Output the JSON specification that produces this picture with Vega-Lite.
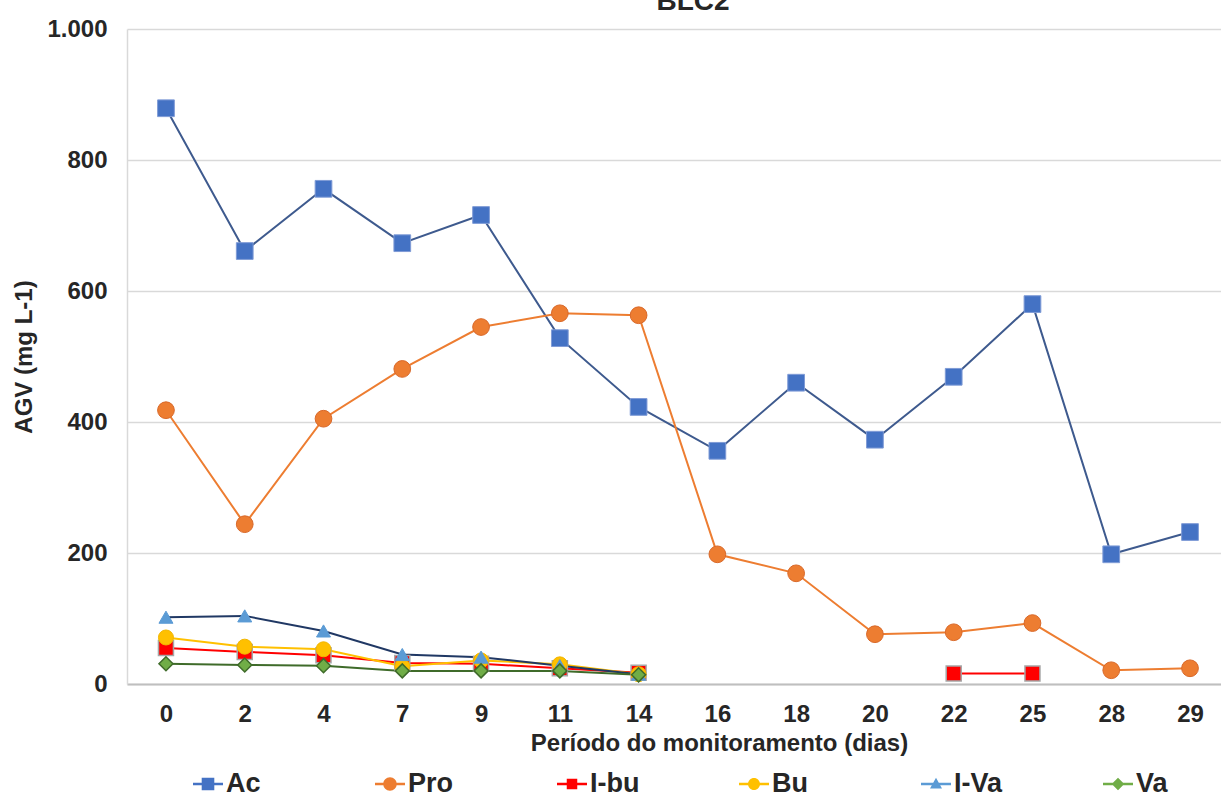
{
  "$schema": "https://vega.github.io/schema/vega-lite/v6.json",
  "width": 1094,
  "height": 655,
  "autosize": {"type": "none"},
  "padding": {"left": 127, "top": 29, "right": 0, "bottom": 113},
  "background": "white",
  "config": {"view": {"stroke": null}, "font": "Liberation Sans"},
  "title": {
    "text": "BLC2",
    "font": "Liberation Sans",
    "fontSize": 28,
    "fontWeight": "bold",
    "color": "#262626",
    "anchor": "middle",
    "baseline": "alphabetic",
    "offset": -21,
    "dx": 19
  },
  "data": {
    "values": [
      {"dia": 0, "serie": "Ac", "v": 879}, {"dia": 2, "serie": "Ac", "v": 661}, {"dia": 4, "serie": "Ac", "v": 756},
      {"dia": 7, "serie": "Ac", "v": 673}, {"dia": 9, "serie": "Ac", "v": 716}, {"dia": 11, "serie": "Ac", "v": 528},
      {"dia": 14, "serie": "Ac", "v": 423}, {"dia": 16, "serie": "Ac", "v": 356}, {"dia": 18, "serie": "Ac", "v": 460},
      {"dia": 20, "serie": "Ac", "v": 373}, {"dia": 22, "serie": "Ac", "v": 469}, {"dia": 25, "serie": "Ac", "v": 580},
      {"dia": 28, "serie": "Ac", "v": 198}, {"dia": 29, "serie": "Ac", "v": 232},

      {"dia": 0, "serie": "Pro", "v": 418}, {"dia": 2, "serie": "Pro", "v": 244}, {"dia": 4, "serie": "Pro", "v": 405},
      {"dia": 7, "serie": "Pro", "v": 481}, {"dia": 9, "serie": "Pro", "v": 545}, {"dia": 11, "serie": "Pro", "v": 566},
      {"dia": 14, "serie": "Pro", "v": 563}, {"dia": 16, "serie": "Pro", "v": 198}, {"dia": 18, "serie": "Pro", "v": 169},
      {"dia": 20, "serie": "Pro", "v": 76}, {"dia": 22, "serie": "Pro", "v": 79}, {"dia": 25, "serie": "Pro", "v": 93},
      {"dia": 28, "serie": "Pro", "v": 21}, {"dia": 29, "serie": "Pro", "v": 24},

      {"dia": 0, "serie": "I-bu", "v": 55}, {"dia": 2, "serie": "I-bu", "v": 49}, {"dia": 4, "serie": "I-bu", "v": 44},
      {"dia": 7, "serie": "I-bu", "v": 32}, {"dia": 9, "serie": "I-bu", "v": 31}, {"dia": 11, "serie": "I-bu", "v": 24},
      {"dia": 14, "serie": "I-bu", "v": 17}, {"dia": 16, "serie": "I-bu", "v": null}, {"dia": 18, "serie": "I-bu", "v": null},
      {"dia": 20, "serie": "I-bu", "v": null}, {"dia": 22, "serie": "I-bu", "v": 16}, {"dia": 25, "serie": "I-bu", "v": 16},

      {"dia": 0, "serie": "Bu", "v": 71}, {"dia": 2, "serie": "Bu", "v": 57}, {"dia": 4, "serie": "Bu", "v": 53},
      {"dia": 7, "serie": "Bu", "v": 27}, {"dia": 9, "serie": "Bu", "v": 36}, {"dia": 11, "serie": "Bu", "v": 30},
      {"dia": 14, "serie": "Bu", "v": 15},

      {"dia": 0, "serie": "I-Va", "v": 102}, {"dia": 2, "serie": "I-Va", "v": 104}, {"dia": 4, "serie": "I-Va", "v": 81},
      {"dia": 7, "serie": "I-Va", "v": 45}, {"dia": 9, "serie": "I-Va", "v": 41}, {"dia": 11, "serie": "I-Va", "v": 28},
      {"dia": 14, "serie": "I-Va", "v": 15},

      {"dia": 0, "serie": "Va", "v": 31}, {"dia": 2, "serie": "Va", "v": 29}, {"dia": 4, "serie": "Va", "v": 28},
      {"dia": 7, "serie": "Va", "v": 20}, {"dia": 9, "serie": "Va", "v": 20}, {"dia": 11, "serie": "Va", "v": 20},
      {"dia": 14, "serie": "Va", "v": 14}
    ]
  },
  "encoding": {
    "x": {
      "field": "dia",
      "type": "ordinal",
      "scale": {"type": "point", "padding": 0.444, "align": 0.557},
      "axis": {
        "title": "Período do monitoramento (dias)",
        "labelAngle": 0,
        "labelFontSize": 24,
        "labelFontWeight": "bold",
        "labelColor": "#262626",
        "labelPadding": 18,
        "ticks": false,
        "grid": false,
        "domainColor": "#BFBFBF",
        "domainWidth": 2,
        "titleFontSize": 24,
        "titleFontWeight": "bold",
        "titleColor": "#262626",
        "titleX": 592,
        "titlePadding": 5
      }
    },
    "y": {
      "field": "v",
      "type": "quantitative",
      "scale": {"domain": [0, 1000], "nice": false},
      "axis": {
        "title": "AGV (mg L-1)",
        "values": [0, 200, 400, 600, 800, 1000],
        "labelExpr": "datum.value == 1000 ? '1.000' : format(datum.value, 'd')",
        "labelFontSize": 24,
        "labelFontWeight": "bold",
        "labelColor": "#262626",
        "labelPadding": 20,
        "ticks": false,
        "grid": true,
        "gridColor": "#D9D9D9",
        "gridWidth": 1.5,
        "domain": true,
        "domainColor": "#D9D9D9",
        "domainWidth": 1.5,
        "titleFontSize": 24,
        "titleFontWeight": "bold",
        "titleColor": "#262626",
        "titlePadding": 10
      }
    }
  },
  "layer": [
    {
      "mark": {"type": "point", "filled": true, "opacity": 0},
      "encoding": {
        "fill": {
          "field": "serie",
          "type": "nominal",
          "scale": {
            "domain": ["Ac", "Pro", "I-bu", "Bu", "I-Va", "Va"],
            "range": ["#4472C4", "#ED7D31", "#FF0000", "#FFC000", "#5B9BD5", "#70AD47"]
          },
          "legend": {
            "title": null,
            "orient": "none",
            "legendX": 66,
            "legendY": 740,
            "direction": "horizontal",
            "columns": 6,
            "gridAlign": "all",
            "columnPadding": 99,
            "symbolSize": 900,
            "symbolOpacity": 1,
            "symbolStrokeWidth": 0,
            "labelFont": "Liberation Sans",
            "labelFontSize": 27,
            "labelFontWeight": "bold",
            "labelColor": "#262626",
            "labelOffset": 3
          }
        },
        "shape": {
          "field": "serie",
          "type": "nominal",
          "scale": {
            "domain": ["Ac", "Pro", "I-bu", "Bu", "I-Va", "Va"],
            "range": [
              "M-1,-0.08H1V0.08H-1Z M-0.42,-0.42H0.42V0.42H-0.42Z",
              "M-1,-0.08H1V0.08H-1Z M-0.45,0 A0.45,0.45 0 1,1 0.45,0 A0.45,0.45 0 1,1 -0.45,0Z",
              "M-1,-0.08H1V0.08H-1Z M-0.35,-0.35H0.35V0.35H-0.35Z",
              "M-1,-0.08H1V0.08H-1Z M-0.4,0 A0.4,0.4 0 1,1 0.4,0 A0.4,0.4 0 1,1 -0.4,0Z",
              "M-1,-0.08H1V0.08H-1Z M0,-0.42 L0.4,0.3 L-0.4,0.3Z",
              "M-1,-0.08H1V0.08H-1Z M0,-0.42 L0.42,0 L0,0.42 L-0.42,0Z"
            ]
          },
          "legend": {
            "title": null,
            "orient": "none",
            "legendX": 66,
            "legendY": 740,
            "direction": "horizontal",
            "columns": 6,
            "gridAlign": "all",
            "columnPadding": 99,
            "symbolSize": 900,
            "symbolOpacity": 1,
            "symbolStrokeWidth": 0,
            "labelFont": "Liberation Sans",
            "labelFontSize": 27,
            "labelFontWeight": "bold",
            "labelColor": "#262626",
            "labelOffset": 3
          }
        }
      }
    },
    {
      "mark": {"type": "line", "strokeWidth": 2, "invalid": "break-paths-filter-domains"},
      "encoding": {
        "stroke": {
          "field": "serie",
          "type": "nominal",
          "scale": {
            "domain": ["Ac", "Pro", "I-bu", "Bu", "I-Va", "Va"],
            "range": ["#3E5A8E", "#ED7D31", "#FF0000", "#FFC000", "#203864", "#3F6B2A"]
          },
          "legend": null
        }
      }
    },
    {
      "transform": [{"filter": {"field": "serie", "equal": "Ac"}}],
      "mark": {"type": "point", "shape": "square", "filled": true, "size": 280, "fill": "#4472C4", "stroke": "#7F9BD6", "strokeWidth": 1, "opacity": 1}
    },
    {
      "transform": [{"filter": {"field": "serie", "equal": "Pro"}}],
      "mark": {"type": "point", "shape": "circle", "filled": true, "size": 280, "fill": "#ED7D31", "stroke": "#D9692A", "strokeWidth": 1, "opacity": 1}
    },
    {
      "transform": [{"filter": {"field": "serie", "equal": "I-bu"}}],
      "mark": {"type": "point", "shape": "square", "filled": true, "size": 225, "fill": "#FF0000", "stroke": "#A6A6A6", "strokeWidth": 1.5, "opacity": 1}
    },
    {
      "transform": [{"filter": {"field": "serie", "equal": "Bu"}}],
      "mark": {"type": "point", "shape": "circle", "filled": true, "size": 225, "fill": "#FFC000", "stroke": "#F2B600", "strokeWidth": 1, "opacity": 1}
    },
    {
      "transform": [{"filter": {"field": "serie", "equal": "I-Va"}}],
      "mark": {"type": "point", "shape": "triangle-up", "filled": true, "size": 196, "fill": "#5B9BD5", "stroke": "#5B9BD5", "strokeWidth": 1, "opacity": 1}
    },
    {
      "transform": [{"filter": {"field": "serie", "equal": "Va"}}],
      "mark": {"type": "point", "shape": "diamond", "filled": true, "size": 196, "fill": "#70AD47", "stroke": "#3F6B2A", "strokeWidth": 1.5, "opacity": 1}
    }
  ]
}
